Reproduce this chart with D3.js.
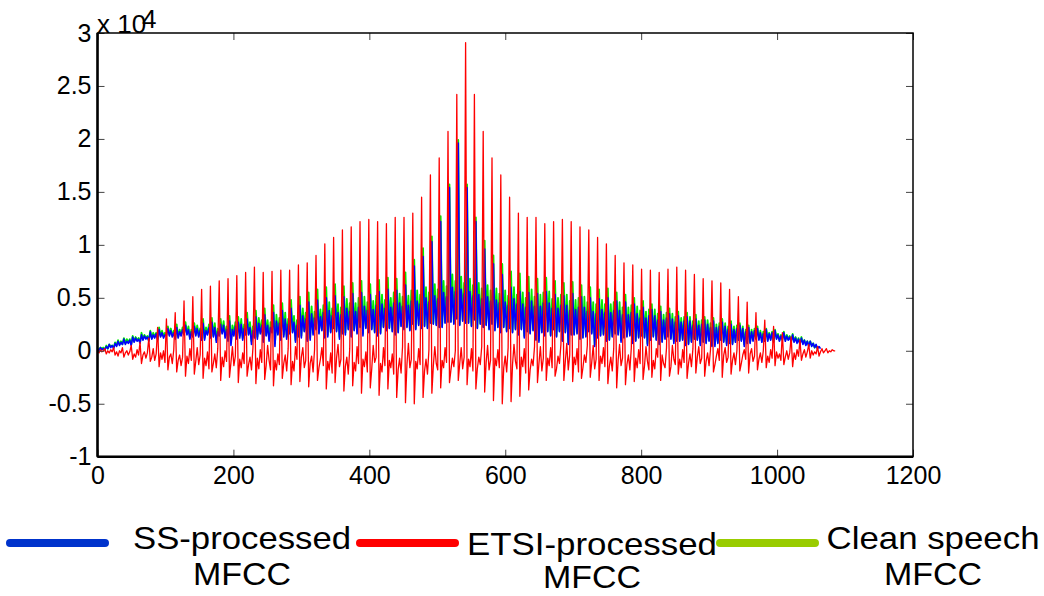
<!DOCTYPE html>
<html>
<head>
<meta charset="utf-8">
<script src="https://cdn.jsdelivr.net/npm/d3@7"></script>
<style>
  body { margin: 0; background: #fff; }
  svg { display: block; font-family: "Liberation Sans", Arial, sans-serif; }
</style>
</head>
<body>
<div id="graf"></div>
<script>
// sample spacing along x (one spike period = 6 samples)
const step = 2.158;

// values in units of 100 (so 291 -> 29100)
// SS-processed MFCC
const ssValues = [
  2, 0, 3, 1, 2, 1,   4, 2, 6, 3, 5, 2,   7, 4, 9, 5, 8, 6,   11, 6, 9, 7, 10, 5,
  13, 8, 12, 9, 11, 7,   15, 10, 14, 11, 13, 9,   18, 11, 15, 12, 16, 10,   20, 13, 17, 12, 15, 14,
  21, 14, 19, 13, 17, 11,   22, 12, 18, 14, 20, 15,   24, 15, 20, 11, 18, 13,   23, 14, 21, 13, 19, 10,
  26, 10, 19, 15, 22, 12,   27, 13, 22, 8, 18, 14,   25, 16, 24, 12, 20, 9,   28, 5, 20, 14, 23, 11,
  27, 12, 25, 10, 21, 15,   30, 15, 22, 6, 19, 12,   32, 11, 26, 16, 24, 8,   34, 14, 24, 9, 22, 17,
  36, 4, 28, 15, 26, 10,   38, 13, 30, 11, 25, 16,   40, 17, 27, 8, 24, 13,   43, 12, 33, 18, 30, 9,
  46, 10, 35, 15, 31, 20,   48, 16, 32, 19, 36, 12,   50, 13, 38, 17, 33, 21,   52, 18, 36, 11, 34, 16,
  51, 15, 40, 20, 37, 13,   54, 19, 37, 16, 41, 22,   55, 14, 42, 21, 38, 17,   53, 20, 39, 17, 43, 14,
  56, 16, 44, 22, 40, 19,   58, 21, 41, 18, 45, 15,   57, 17, 45, 23, 42, 20,   62, 22, 43, 19, 47, 25,
  80, 20, 47, 24, 44, 21,   89, 23, 50, 21, 46, 26,   103, 25, 52, 24, 49, 22,   122, 22, 55, 26, 51, 27,
  154, 27, 60, 25, 56, 30,   196, 24, 58, 28, 54, 26,   154, 26, 56, 23, 52, 29,   122, 21, 53, 25, 49, 22,
  96, 24, 51, 20, 47, 25,   82, 19, 48, 22, 45, 17,   72, 22, 46, 18, 43, 21,   60, 17, 49, 20, 44, 15,
  56, 20, 44, 12, 41, 18,   55, 16, 47, 19, 42, 10,   54, 8, 42, 17, 45, 14,   56, 18, 45, 14, 40, 20,
  53, 13, 40, 18, 43, 9,   52, 17, 43, 6, 38, 15,   54, 15, 39, 16, 41, 11,   51, 12, 41, 13, 37, 18,
  50, 16, 37, 4, 35, 12,   49, 14, 39, 15, 36, 9,   50, 10, 36, 13, 38, 16,   47, 15, 38, 8, 34, 12,
  46, 13, 34, 14, 36, 7,   44, 9, 35, 12, 31, 14,   41, 12, 31, 5, 33, 10,   39, 13, 33, 10, 29, 6,
  37, 8, 29, 11, 31, 13,   35, 11, 30, 7, 27, 9,   33, 9, 27, 10, 28, 5,   32, 6, 28, 8, 24, 11,
  30, 10, 24, 5, 25, 8,   29, 7, 25, 9, 22, 4,   28, 4, 22, 7, 23, 10,   27, 8, 23, 5, 20, 7,
  25, 6, 20, 8, 21, 10,   24, 9, 21, 4, 18, 7,   22, 7, 18, 9, 19, 11,   21, 10, 17, 8, 16, 9,
  20, 9, 16, 10, 17, 8,   19, 11, 15, 9, 14, 10,   17, 9, 14, 10, 13, 8,   15, 8, 12, 7, 11, 6,
  12, 6, 10, 5, 9, 4,   9, 4, 7, 3, 6, 2,   4, 2
];

// ETSI-processed MFCC
const etsiValues = [
  0, -2, 1, -1, 0, 2,   -3, 0, -2, 1, -1, 3,   -4, -1, -5, 0, -2, 3,   -6, -2, 0, -4, -1, 5,
  -8, -3, -6, 1, -4, 8,   -12, -4, -1, -7, -2, 12,   -10, -6, 2, -9, -3, 22,   -15, -2, -8, 0, -11, 30,
  -18, -6, -3, -12, 1, 36,   -20, -9, -4, -14, -6, 47,   -24, -5, -12, 2, -9, 51,   -22, -10, 3, -13, -4, 58,
  -26, -7, -14, -1, -17, 61,   -20, -12, -3, -16, 2, 66,   -28, -6, -15, 0, -10, 68,   -25, -11, 4, -14, -5, 71,
  -30, -8, -16, -2, -12, 74,   -24, -13, -6, -18, 3, 79,   -31, -7, -17, 1, -11, 74,   -27, -14, 5, -9, -18, 75,
  -33, -9, -18, -3, -13, 76,   -26, -12, -4, -19, 2, 76,   -32, -10, -19, 4, -8, 81,   -29, -6, 3, -16, -9, 83,
  -34, -12, -5, -20, 1, 90,   -28, -16, -8, 3, -14, 101,   -36, -10, -18, -2, -21, 107,   -30, -7, 6, -15, -8, 114,
  -38, -15, -6, -22, 2, 117,   -33, -11, -19, 4, -12, 122,   -40, -8, -15, -1, -20, 124,   -35, -17, 5, -11, -6, 122,
  -42, -12, -20, 3, -14, 120,   -36, -9, -16, -3, -22, 126,   -44, -18, -7, -21, 4, 126,   -49, -13, 7, -16, -8, 130,
  -50, -10, -17, 2, -13, 145,   -44, -19, -8, -22, 1, 166,   -40, -14, 4, -12, -18, 182,   -35, -9, -16, 3, -11, 207,
  -30, -18, -7, -15, 0, 242,   -28, -12, 3, -17, -6, 291,   -32, -8, -15, 2, -19, 242,   -36, -17, -6, -13, 4, 207,
  -39, -11, 5, -18, -9, 182,   -47, -7, -14, 1, -16, 166,   -50, -16, -5, -20, 3, 145,   -48, -13, 6, -10, -17, 130,
  -43, -6, -15, 2, -21, 126,   -37, -18, -8, -14, 4, 126,   -30, -12, 4, -19, -7, 120,   -28, -7, -14, 3, -16, 122,
  -24, -17, -5, -12, 6, 124,   -28, -10, 7, -18, -4, 122,   -29, -6, -13, 2, -20, 117,   -26, -16, -4, -11, 5, 114,
  -25, -11, 5, -17, -8, 107,   -28, -5, -12, 3, -15, 101,   -31, -15, -6, -19, 2, 90,   -35, -9, 6, -14, -7, 83,
  -32, -13, -4, -18, 3, 81,   -29, -7, -16, 1, -12, 77,   -27, -14, 4, -10, -18, 76,   -25, -9, -17, 2, -6, 74,
  -28, -4, -12, -16, 3, 77,   -24, -15, 5, -8, -13, 79,   -22, -8, -16, 1, -11, 76,   -26, -12, -3, -15, 2, 72,
  -21, -6, 4, -12, -7, 68,   -24, -10, -2, -14, 1, 66,   -20, -13, -5, 2, -9, 64,   -25, -4, 3, -11, -6, 58,
  -22, -9, -2, -13, 0, 51,   -19, -12, -4, 1, -8, 46,   -21, -3, 2, -10, -5, 36,   -18, -8, -2, -11, 0, 29,
  -16, -5, -11, 1, -7, 23,   -14, -1, -7, -3, -9, 17,   -13, -6, 0, -8, -2, 13,   -15, -2, -8, 1, -5, 10,
  -9, -3, 1, -6, -1, 6,   -7, 0, -4, -1, -3, 4,   -5, -1, 2, -2, 0, 2,   -2, 0, -1, 1, 0, 0
];

// Clean speech MFCC
const cleanValues = [
  2, 1, 3, 2, 3, 1,   5, 2, 6, 4, 5, 3,   8, 5, 10, 6, 9, 6,   12, 7, 11, 8, 11, 6,
  14, 9, 13, 10, 12, 8,   17, 11, 15, 12, 14, 10,   19, 12, 17, 13, 17, 11,   22, 14, 19, 14, 17, 15,
  23, 15, 21, 14, 19, 12,   25, 13, 20, 15, 22, 16,   27, 16, 23, 13, 20, 14,   26, 15, 24, 14, 21, 11,
  30, 12, 22, 16, 25, 13,   31, 14, 26, 10, 21, 15,   30, 17, 28, 14, 23, 10,   33, 8, 24, 16, 27, 12,
  32, 14, 30, 12, 25, 16,   36, 16, 27, 9, 23, 13,   38, 13, 31, 17, 29, 10,   40, 15, 29, 11, 27, 18,
  43, 7, 34, 16, 31, 11,   45, 15, 36, 13, 30, 17,   48, 18, 33, 10, 29, 14,   51, 14, 40, 19, 36, 11,
  55, 12, 42, 17, 37, 21,   58, 17, 39, 20, 43, 13,   60, 15, 46, 18, 40, 22,   63, 19, 44, 13, 41, 17,
  61, 17, 49, 21, 45, 14,   64, 20, 45, 17, 50, 23,   66, 16, 51, 22, 46, 18,   63, 21, 47, 18, 52, 15,
  67, 17, 53, 23, 48, 20,   69, 22, 50, 19, 55, 16,   68, 18, 54, 24, 51, 21,   74, 23, 52, 20, 57, 26,
  86, 21, 57, 25, 53, 22,   97, 24, 60, 22, 55, 27,   108, 26, 63, 25, 58, 23,   127, 23, 66, 27, 61, 28,
  157, 28, 72, 26, 66, 31,   199, 25, 70, 29, 64, 27,   157, 27, 68, 24, 62, 30,   126, 22, 64, 26, 59, 23,
  104, 25, 62, 21, 57, 26,   90, 20, 59, 23, 54, 18,   82, 23, 57, 19, 52, 22,   75, 18, 60, 21, 53, 16,
  73, 21, 55, 14, 50, 19,   70, 17, 58, 20, 51, 11,   68, 10, 53, 18, 55, 15,   69, 19, 56, 15, 49, 21,
  66, 14, 50, 19, 53, 10,   64, 18, 53, 8, 47, 16,   65, 16, 48, 17, 50, 12,   62, 13, 51, 14, 46, 19,
  60, 17, 46, 6, 44, 13,   58, 15, 48, 16, 44, 10,   59, 11, 44, 14, 46, 17,   55, 16, 46, 10, 41, 13,
  53, 14, 41, 15, 43, 8,   50, 10, 42, 13, 38, 15,   47, 13, 37, 7, 39, 11,   44, 14, 39, 11, 35, 7,
  42, 9, 34, 12, 36, 14,   40, 12, 35, 9, 32, 10,   37, 10, 31, 11, 32, 6,   36, 7, 32, 9, 28, 12,
  34, 11, 28, 7, 29, 9,   32, 8, 29, 10, 26, 5,   31, 6, 25, 8, 26, 11,   30, 9, 26, 7, 23, 8,
  28, 7, 23, 9, 24, 11,   26, 10, 23, 6, 20, 8,   24, 8, 20, 10, 21, 12,   23, 11, 19, 9, 18, 10,
  21, 10, 17, 11, 18, 9,   20, 12, 16, 10, 15, 11,   18, 10, 15, 11, 14, 9,   16, 9, 13, 8, 12, 7,
  13, 7, 10, 6, 9, 5,   9, 5, 7, 3, 5, 2
];

const xTicks = [0, 200, 400, 600, 800, 1000, 1200];
const yTicks = [-10000, -5000, 0, 5000, 10000, 15000, 20000, 25000, 30000];

const seriesNames = [
  ["SS-processed", "MFCC"],
  ["ETSI-processed", "MFCC"],
  ["Clean speech", "MFCC"]
];
const seriesColors = ["#0000ff", "#ff0000", "#00ee00"];
const legendColors = ["#0033cc", "#ff0000", "#99cc00"];

// Dimensiones
const anchoTotal = 1044, altoTotal = 596;
const plot = { left: 97.5, right: 913, top: 33, bottom: 456.7 };

const svg = d3.select("#graf").append("svg")
  .attr("width", anchoTotal)
  .attr("height", altoTotal);

svg.append("rect").attr("width", anchoTotal).attr("height", altoTotal).attr("fill", "white");

// Escaladores
const x = d3.scaleLinear().domain([0, 1200]).range([plot.left, plot.right]);
const y = d3.scaleLinear().domain([-10000, 30000]).range([plot.bottom, plot.top]);

const line = d3.line()
  .x((d, i) => x(i * step))
  .y((d) => y(d * 100));

// lines: clean first, then SS, ETSI on top
const layers = [
  { data: cleanValues, color: seriesColors[2], w: 1.8 },
  { data: ssValues, color: seriesColors[0], w: 1.6 },
  { data: etsiValues, color: seriesColors[1], w: 1.3 }
];
svg.append("g").selectAll("path")
  .data(layers)
  .join("path")
  .attr("d", (d) => line(d.data))
  .attr("fill", "none")
  .attr("stroke", (d) => d.color)
  .attr("stroke-width", (d) => d.w)
  .attr("stroke-linejoin", "round");

// Ejes
const styleAxis = (g) => {
  g.select(".domain").remove();
  g.selectAll(".tick line").attr("stroke", "#444").attr("stroke-width", 1);
  g.selectAll(".tick text").attr("fill", "#000").attr("font-size", 25)
    .attr("font-family", "'Liberation Sans', Arial, sans-serif");
};

svg.append("g")
  .attr("transform", `translate(0, ${plot.bottom})`)
  .call(d3.axisBottom(x).tickValues(xTicks).tickSize(-7).tickSizeOuter(0).tickPadding(10)
    .tickFormat(d3.format("d")))
  .call(styleAxis);

svg.append("g")
  .attr("transform", `translate(${plot.left}, 0)`)
  .call(d3.axisLeft(y).tickValues(yTicks).tickSize(-7).tickSizeOuter(0).tickPadding(6)
    .tickFormat((d) => d / 10000))
  .call(styleAxis);

svg.append("g")
  .attr("transform", `translate(0, ${plot.top})`)
  .call(d3.axisTop(x).tickValues(xTicks).tickSize(-7).tickSizeOuter(0).tickFormat(""))
  .call(styleAxis);

svg.append("g")
  .attr("transform", `translate(${plot.right}, 0)`)
  .call(d3.axisRight(y).tickValues(yTicks).tickSize(-7).tickSizeOuter(0).tickFormat(""))
  .call(styleAxis);

// marco
svg.append("rect")
  .attr("x", plot.left).attr("y", plot.top)
  .attr("width", plot.right - plot.left).attr("height", plot.bottom - plot.top)
  .attr("fill", "none").attr("stroke", "#000").attr("stroke-width", 1.5);
svg.append("line")
  .attr("x1", plot.left).attr("x2", plot.left).attr("y1", plot.top).attr("y2", plot.bottom)
  .attr("stroke", "#000").attr("stroke-width", 2.5);
svg.append("line")
  .attr("x1", plot.left).attr("x2", plot.right).attr("y1", plot.bottom).attr("y2", plot.bottom)
  .attr("stroke", "#000").attr("stroke-width", 2.5);

// multiplicador (the 4 overlaps the 0 as in the original)
svg.append("text").attr("x", 97).attr("y", 33).attr("font-size", 26).attr("fill", "#000").text("x 10");
svg.append("text").attr("x", 142).attr("y", 28).attr("font-size", 26).attr("fill", "#000").text("4");

// Leyenda
const legendPos = [
  { x1: 10, x2: 105, tx: 242, ty: 549, ty2: 585, w: 218 },
  { x1: 360, x2: 455, tx: 592, ty: 555, ty2: 588, w: 250 },
  { x1: 720, x2: 815, tx: 933, ty: 549, ty2: 585, w: 213 }
];
const leg = svg.append("g").selectAll("g")
  .data(seriesNames)
  .join("g");
leg.append("line")
  .attr("x1", (d, i) => legendPos[i].x1)
  .attr("x2", (d, i) => legendPos[i].x2)
  .attr("y1", 543).attr("y2", 543)
  .attr("stroke", (d, i) => legendColors[i])
  .attr("stroke-width", 8)
  .attr("stroke-linecap", "round");
leg.append("text")
  .attr("x", (d, i) => legendPos[i].tx)
  .attr("y", (d, i) => legendPos[i].ty)
  .attr("text-anchor", "middle")
  .attr("font-size", 32)
  .attr("textLength", (d, i) => legendPos[i].w)
  .attr("lengthAdjust", "spacingAndGlyphs")
  .attr("fill", "#000")
  .text((d) => d[0]);
leg.append("text")
  .attr("x", (d, i) => legendPos[i].tx)
  .attr("y", (d, i) => legendPos[i].ty2)
  .attr("text-anchor", "middle")
  .attr("font-size", 32)
  .attr("textLength", 98)
  .attr("lengthAdjust", "spacingAndGlyphs")
  .attr("fill", "#000")
  .text((d) => d[1]);
</script>
</body>
</html>
